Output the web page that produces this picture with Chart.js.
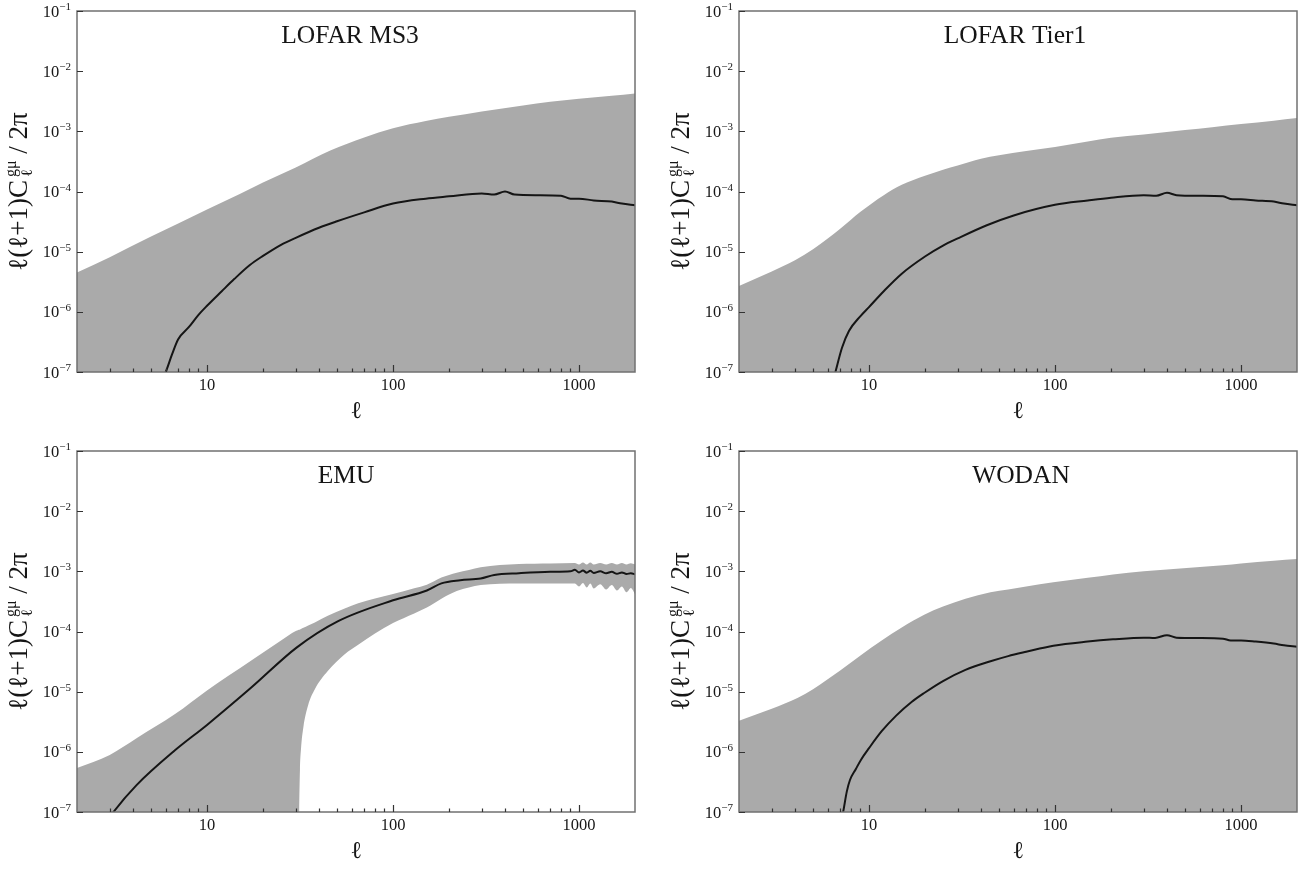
<!DOCTYPE html>
<html>
<head>
<meta charset="utf-8">
<script src="https://cdn.jsdelivr.net/npm/chart.js@4.4.1/dist/chart.umd.min.js"></script>
<style>
  html, body { margin: 0; padding: 0; background: #fff; }
  #wrap { position: relative; width: 1308px; height: 869px; overflow: hidden; }
  canvas { position: absolute; }
</style>
</head>
<body>
<div id="wrap">
  <canvas id="ms3" width="654" height="434" style="left:0;top:0"></canvas>
  <canvas id="tier1" width="654" height="434" style="left:654px;top:0"></canvas>
  <canvas id="emu" width="654" height="435" style="left:0;top:434px"></canvas>
  <canvas id="wodan" width="654" height="435" style="left:654px;top:434px"></canvas>
</div>
<script>
// ── Axis ticks ───────────────────────────────────────────────────────────────
const yTickValues = [1e-7, 1e-6, 1e-5, 1e-4, 1e-3, 1e-2, 1e-1];
const yTickExps = ["\u22127", "\u22126", "\u22125", "\u22124", "\u22123", "\u22122", "\u22121"];
const xMajorTicks = [10, 100, 1000];
const xMajorLabels = ["10", "100", "1000"];
const xMinorTicks = [3, 4, 5, 6, 7, 8, 9, 20, 30, 40, 50, 60, 70, 80, 90,
  200, 300, 400, 500, 600, 700, 800, 900];

// ── LOFAR MS3 ────────────────────────────────────────────────────────────────
const ms3BandEll = [2, 3, 5, 7, 10, 15, 20, 30, 46, 70, 100, 150, 200, 300, 500, 700, 1000, 1500, 2000];
const ms3BandTop = [4.5e-6, 8.1e-6, 1.78e-5, 2.95e-5, 5.0e-5, 9.1e-5, 1.41e-4, 2.5e-4, 4.8e-4, 7.9e-4,
  1.12e-3, 1.48e-3, 1.74e-3, 2.14e-3, 2.7e-3, 3.1e-3, 3.47e-3, 3.9e-3, 4.27e-3];
const ms3LineEll = [5.8, 6.0, 6.5, 7, 8, 9, 10, 12, 14, 17, 20, 25, 30, 40, 50, 70, 100, 150, 200,
  300, 350, 400, 450, 600, 800, 900, 1000, 1200, 1500, 1700, 2000];
const ms3Line = [8e-8, 1.0e-7, 2.0e-7, 3.5e-7, 5.6e-7, 8.9e-7, 1.26e-6, 2.2e-6, 3.5e-6, 6.0e-6, 8.5e-6,
  1.3e-5, 1.7e-5, 2.5e-5, 3.2e-5, 4.5e-5, 6.3e-5, 7.6e-5, 8.3e-5, 9.3e-5, 8.9e-5, 1.0e-4, 8.9e-5,
  8.7e-5, 8.5e-5, 7.6e-5, 7.6e-5, 7.1e-5, 6.8e-5, 6.3e-5, 5.9e-5];

// ── LOFAR Tier1 ──────────────────────────────────────────────────────────────
const tier1BandEll = [2, 3, 4, 5, 6, 7, 9, 12, 15, 20, 25, 30, 40, 50, 70, 100, 150, 200, 300, 500, 700, 1000, 1500, 2000];
const tier1BandTop = [2.7e-6, 4.7e-6, 7.2e-6, 1.1e-5, 1.66e-5, 2.4e-5, 4.6e-5, 8.7e-5, 1.29e-4, 1.82e-4,
  2.3e-4, 2.7e-4, 3.5e-4, 4.0e-4, 4.7e-4, 5.5e-4, 6.8e-4, 7.8e-4, 8.9e-4, 1.05e-3, 1.17e-3, 1.32e-3,
  1.5e-3, 1.66e-3];
const tier1LineEll = [6.4, 6.6, 7.15, 7.8, 9, 10, 12, 15, 20, 25, 30, 43, 60, 100, 150, 200, 300, 350,
  400, 450, 600, 800, 900, 1000, 1200, 1500, 1700, 2000];
const tier1Line = [7e-8, 1.0e-7, 2.5e-7, 4.8e-7, 8.5e-7, 1.2e-6, 2.2e-6, 4.3e-6, 8.3e-6, 1.26e-5, 1.66e-5,
  2.75e-5, 4.0e-5, 6.0e-5, 7.1e-5, 7.9e-5, 8.7e-5, 8.5e-5, 9.5e-5, 8.7e-5, 8.5e-5, 8.3e-5, 7.4e-5,
  7.4e-5, 7.1e-5, 6.8e-5, 6.3e-5, 5.9e-5];

// ── EMU ──────────────────────────────────────────────────────────────────────
const emuBandEll = [2, 3, 4.2, 6.7, 10, 17.3, 25, 30, 31, 31.3, 31.6, 32, 33, 35, 38, 44.6, 55, 65, 80,
  100, 130, 152, 182, 220, 256, 296, 476, 700, 950, 1000, 1050, 1100, 1150, 1200, 1300, 1400, 1500,
  1600, 1700, 1800, 1900, 2000];
const emuBandTop = [5.4e-7, 8.9e-7, 1.7e-6, 4.2e-6, 1.05e-5, 3.3e-5, 7.1e-5, 1.02e-4, 1.06e-4, 1.07e-4,
  1.08e-4, 1.1e-4, 1.15e-4, 1.26e-4, 1.41e-4, 1.82e-4, 2.4e-4, 2.95e-4, 3.55e-4, 4.2e-4, 5.25e-4,
  6.0e-4, 7.9e-4, 9.5e-4, 1.05e-3, 1.17e-3, 1.32e-3, 1.35e-3, 1.38e-3, 1.3e-3, 1.4e-3, 1.3e-3, 1.4e-3,
  1.3e-3, 1.38e-3, 1.3e-3, 1.38e-3, 1.3e-3, 1.37e-3, 1.3e-3, 1.36e-3, 1.3e-3];
const emuBandLow = [1e-8, 1e-8, 1e-8, 1e-8, 1e-8, 1e-8, 1e-8, 1e-8, 1e-8, 1.0e-7, 5.0e-7, 1.1e-6,
  2.6e-6, 6.0e-6, 1.1e-5, 2.2e-5, 4.2e-5, 6.0e-5, 9.3e-5, 1.38e-4, 2.0e-4, 2.5e-4, 3.5e-4, 4.7e-4,
  5.4e-4, 5.9e-4, 6.3e-4, 6.3e-4, 6.3e-4, 5.6e-4, 6.4e-4, 5.4e-4, 6.3e-4, 5.2e-4, 6.1e-4, 5.0e-4,
  5.9e-4, 4.8e-4, 5.6e-4, 4.5e-4, 5.3e-4, 4.2e-4];
const emuLineEll = [2.9, 3.14, 4.18, 6.7, 10, 17.3, 30.3, 51, 100, 152, 182, 230, 296, 350, 476, 700,
  900, 950, 1000, 1050, 1100, 1150, 1200, 1300, 1400, 1500, 1600, 1700, 1800, 1900, 2000];
const emuLine = [7e-8, 1.0e-7, 2.8e-7, 1.05e-6, 2.8e-6, 1.17e-5, 5.4e-5, 1.5e-4, 3.3e-4, 4.8e-4, 6.3e-4,
  7.1e-4, 7.6e-4, 8.7e-4, 9.3e-4, 9.8e-4, 1.0e-3, 1.06e-3, 9.6e-4, 1.03e-3, 9.5e-4, 1.02e-3, 9.4e-4,
  1.0e-3, 9.3e-4, 9.8e-4, 9.1e-4, 9.6e-4, 9.0e-4, 9.3e-4, 8.9e-4];

// ── WODAN ────────────────────────────────────────────────────────────────────
const wodanBandEll = [2, 3, 4.15, 5, 7, 9, 11.7, 15, 19.8, 25, 33, 45, 56, 70, 98, 150, 205, 300, 577, 800, 1000, 1500, 2000];
const wodanBandTop = [3.3e-6, 5.2e-6, 7.9e-6, 1.1e-5, 2.24e-5, 4.0e-5, 7.1e-5, 1.17e-4, 1.9e-4, 2.6e-4,
  3.5e-4, 4.5e-4, 5.0e-4, 5.6e-4, 6.6e-4, 7.8e-4, 8.9e-4, 1.0e-3, 1.17e-3, 1.26e-3, 1.35e-3, 1.5e-3, 1.6e-3];
const wodanLineEll = [7.0, 7.26, 7.6, 7.9, 8.5, 9.06, 10, 11.7, 14, 17, 19.8, 25, 33, 45, 56, 70, 98, 150,
  205, 300, 345, 400, 450, 600, 800, 880, 1000, 1200, 1500, 1700, 2000];
const wodanLine = [6e-8, 1.0e-7, 2.2e-7, 3.4e-7, 5.2e-7, 7.4e-7, 1.15e-6, 2.2e-6, 4.0e-6, 6.8e-6, 9.5e-6,
  1.5e-5, 2.3e-5, 3.2e-5, 3.9e-5, 4.6e-5, 5.8e-5, 6.8e-5, 7.4e-5, 7.9e-5, 7.8e-5, 8.7e-5, 7.9e-5,
  7.8e-5, 7.6e-5, 7.1e-5, 7.1e-5, 6.8e-5, 6.3e-5, 5.9e-5, 5.6e-5];

// ── Style ────────────────────────────────────────────────────────────────────
const SERIF = '"Liberation Serif", "Times New Roman", serif';
const BAND = "#aaaaaa";
const INK = "#151515";

function pts(xs, ys) {
  return xs.map((x, i) => ({ x, y: ys[i] }));
}

function lineSet(xs, ys) {
  return {
    data: pts(xs, ys),
    borderColor: INK,
    borderWidth: 2,
    fill: false,
    pointRadius: 0,
    cubicInterpolationMode: "monotone",
    clip: 0,
  };
}

function bandSet(xs, ys, fill) {
  return {
    data: pts(xs, ys),
    borderWidth: 0,
    borderColor: BAND,
    backgroundColor: BAND,
    fill,
    pointRadius: 0,
    cubicInterpolationMode: "monotone",
    clip: 0,
  };
}

// ── Frame, ticks and labels drawn against the chart scales ──────────────────
function axesPlugin(title, titleDx) {
  return {
    id: "axesPlugin",
    afterDraw(chart) {
      const { ctx, chartArea: a, scales } = chart;
      const x = scales.x, y = scales.y;
      const cx = (a.left + a.right) / 2;
      const cy = (a.top + a.bottom) / 2;
      ctx.save();

      // frame
      ctx.strokeStyle = "#707070";
      ctx.lineWidth = 1.5;
      ctx.strokeRect(a.left, a.top, a.right - a.left, a.bottom - a.top);

      // ticks
      ctx.strokeStyle = "#333";
      ctx.lineWidth = 1.2;
      ctx.beginPath();
      yTickValues.forEach((v) => {
        const py = Math.round(y.getPixelForValue(v)) + 0.5;
        ctx.moveTo(a.left, py);
        ctx.lineTo(a.left + 6, py);
      });
      xMajorTicks.forEach((v) => {
        const px = Math.round(x.getPixelForValue(v)) + 0.5;
        ctx.moveTo(px, a.bottom);
        ctx.lineTo(px, a.bottom - 7);
      });
      xMinorTicks.forEach((v) => {
        const px = Math.round(x.getPixelForValue(v)) + 0.5;
        ctx.moveTo(px, a.bottom);
        ctx.lineTo(px, a.bottom - 3.5);
      });
      ctx.stroke();

      ctx.fillStyle = INK;
      ctx.textBaseline = "alphabetic";

      // y tick labels 10^n
      yTickValues.forEach((v, i) => {
        const py = y.getPixelForValue(v);
        ctx.font = `11px ${SERIF}`;
        const sw = ctx.measureText(yTickExps[i]).width;
        const sx = a.left - 6 - sw;
        ctx.textAlign = "left";
        ctx.fillText(yTickExps[i], sx, py - 1);
        ctx.font = `16.5px ${SERIF}`;
        ctx.textAlign = "right";
        ctx.fillText("10", sx, py + 5.5);
      });

      // x tick labels
      ctx.font = `16.5px ${SERIF}`;
      ctx.textAlign = "center";
      xMajorTicks.forEach((v, i) => {
        ctx.fillText(xMajorLabels[i], x.getPixelForValue(v), a.bottom + 18);
      });

      // x axis title
      ctx.font = `24px ${SERIF}`;
      ctx.fillText("\u2113", cx, a.bottom + 46);

      // panel title
      ctx.font = `25.5px ${SERIF}`;
      ctx.fillText(title, cx + titleDx, a.top + 32);

      // y axis title, rotated
      ctx.translate(a.left - 50, cy);
      ctx.rotate(-Math.PI / 2);
      const big = `27px ${SERIF}`;
      const small = `16px ${SERIF}`;
      const partA = "\u2113(\u2113+1)C";
      const partB = " / 2\u03c0";
      ctx.font = big;
      const wA = ctx.measureText(partA).width;
      const wB = ctx.measureText(partB).width;
      ctx.font = small;
      const wS = Math.max(ctx.measureText("g\u03bc").width, ctx.measureText("\u2113").width) + 3;
      let tx = -(wA + wS + wB) / 2;
      ctx.textAlign = "left";
      ctx.font = big;
      ctx.fillText(partA, tx, 0);
      tx += wA + 3;
      ctx.font = small;
      ctx.fillText("g\u03bc", tx, -11);
      ctx.fillText("\u2113", tx, 5);
      tx += wS - 3;
      ctx.font = big;
      ctx.fillText(partB, tx, 0);

      ctx.restore();
    },
  };
}

function makePanel(id, datasets, pad, title, titleDx) {
  return new Chart(document.getElementById(id), {
    type: "line",
    data: { datasets },
    options: {
      responsive: false,
      animation: false,
      events: [],
      layout: { padding: pad },
      plugins: {
        legend: { display: false },
        tooltip: { enabled: false },
        title: { display: false },
      },
      scales: {
        x: { type: "logarithmic", min: 2, max: 2000, display: false },
        y: { type: "logarithmic", min: 1e-7, max: 1e-1, display: false },
      },
    },
    plugins: [axesPlugin(title, titleDx)],
  });
}

makePanel("ms3",
  [lineSet(ms3LineEll, ms3Line), bandSet(ms3BandEll, ms3BandTop, "start")],
  { left: 77, top: 11, right: 19, bottom: 62 }, "LOFAR MS3", -6);

makePanel("tier1",
  [lineSet(tier1LineEll, tier1Line), bandSet(tier1BandEll, tier1BandTop, "start")],
  { left: 85, top: 11, right: 11, bottom: 62 }, "LOFAR Tier1", -3);

makePanel("emu",
  [lineSet(emuLineEll, emuLine), bandSet(emuBandEll, emuBandTop, "+1"), bandSet(emuBandEll, emuBandLow, false)],
  { left: 77, top: 17, right: 19, bottom: 57 }, "EMU", -10);

makePanel("wodan",
  [lineSet(wodanLineEll, wodanLine), bandSet(wodanBandEll, wodanBandTop, "start")],
  { left: 85, top: 17, right: 11, bottom: 57 }, "WODAN", 3);
</script>
</body>
</html>
